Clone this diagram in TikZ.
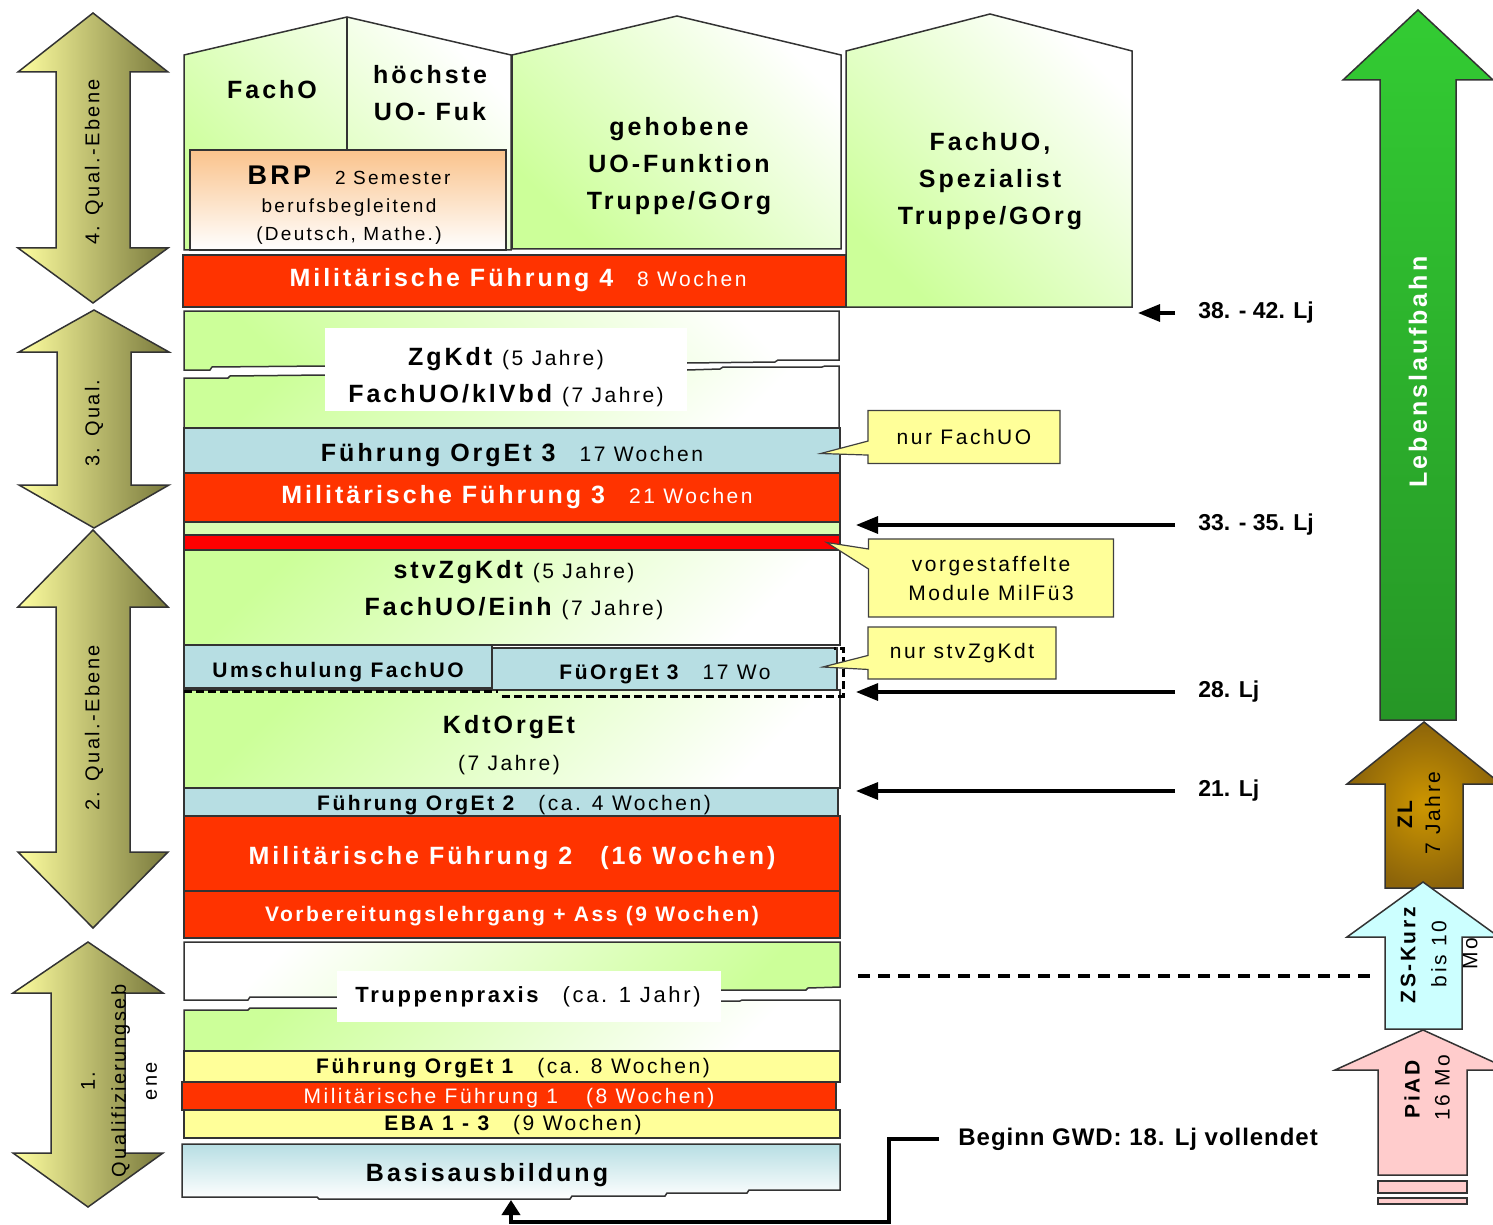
\documentclass[tikz,border=0pt]{standalone}
\usepackage{fontspec}
\setmainfont{Liberation Sans}[LetterSpace=12]
\newfontfamily\ljfont{Liberation Sans}
\newfontfamily\gwdfont{Liberation Sans}[LetterSpace=4]
\usetikzlibrary{fit,arrows.meta,shapes.callouts}

\definecolor{palegreen}{RGB}{204,255,153}
\definecolor{milred}{RGB}{255,51,0}
\definecolor{purered}{RGB}{255,0,0}
\definecolor{orgblue}{RGB}{183,222,227}
\definecolor{paleyel}{RGB}{255,255,153}
\definecolor{brporange}{RGB}{250,195,140}
\definecolor{khakilt}{RGB}{255,255,160}
\definecolor{khakidk}{RGB}{120,120,60}
\definecolor{lbgreen}{RGB}{51,204,51}
\definecolor{lbgreendk}{RGB}{38,150,38}
\definecolor{zlgold}{RGB}{205,150,0}
\definecolor{zlbrown}{RGB}{140,100,10}
\definecolor{zscyan}{RGB}{204,255,255}
\definecolor{piadpink}{RGB}{255,204,204}

\newcommand\dur[1]{{\fontsize{10.5}{12}\selectfont\mdseries #1}}
\newcommand\gap{\hspace{12pt}}
\newcommand\qualarrow[5]{%
  \path[qualshape] (#1,#2) -- (#1+75,#3) -- (#1+37,#3) -- (#1+37,#4) -- (#1+75,#4)
    -- (#1,#5) -- (#1-75,#4) -- (#1-37,#4) -- (#1-37,#3) -- (#1-75,#3) -- cycle;}

\begin{document}
\begin{tikzpicture}[x=0.5pt,y=-0.5pt,
  blk/.style={draw=black!80, line width=0.75pt, inner sep=0pt},
  redbar/.style={blk, fill=milred, text=white},
  bluebar/.style={blk, fill=orgblue},
  yelbar/.style={blk, fill=paleyel},
  greenbox/.style={blk, left color=palegreen, right color=white, shading angle=#1},
  greenbox/.default=135,
  bigtxt/.style={font=\fontsize{12.5}{18.5}\selectfont\bfseries, align=center},
  midtxt/.style={font=\fontsize{10.5}{14}\selectfont\bfseries, align=center},
  note/.style={rectangle callout, draw=black!75, line width=0.6pt, fill=paleyel,
    font=\fontsize{10.5}{14.5}\selectfont, align=center, inner sep=0pt, callout pointer width=7pt},
  qualshape/.style={draw=black!80, line width=0.75pt, left color=khakilt, right color=khakidk},
  qualtxt/.style={rotate=90, font=\fontsize{10}{15.5}\selectfont, align=center},
  ljlabel/.style={anchor=west, inner sep=0pt, font=\ljfont\bfseries\fontsize{11.5}{13}\selectfont},
  agearrow/.style={line width=1.6pt, -{Triangle[length=11pt,width=8.5pt]}, shorten <=11.5pt},
  uparrow/.style={draw=black!80, line width=0.75pt},
  arrtxt/.style={rotate=90, font=\fontsize{10.5}{14}\selectfont, align=center}]

\fill[white] (0,0) rectangle (1493,1225);
\useasboundingbox (0,0) rectangle (1493,1225);

\qualarrow{93}{13}{72}{248}{303}
\qualarrow{94}{310}{352}{485}{528}
\qualarrow{93}{530}{607}{852}{928}
\qualarrow{88}{942}{993}{1153}{1207}
\node[qualtxt] (q4) at (94,162) {4. Qual.-Ebene};
\node[qualtxt] (q3) at (94,423) {3. Qual.};
\node[qualtxt] (q2) at (94,728) {2. Qual.-Ebene};
\node[qualtxt] (q1) at (119,1081) {1.\\Qualifizierungseb\\ene};

\path[greenbox] (184,250) -- (184,55) -- (347,17) -- (511,55) -- (511,250) -- cycle;
\draw[blk] (347,17) -- (347,150);
\node[bigtxt] (facho) at (272,90) {FachO};
\node[bigtxt] (hoechste) at (430,93) {höchste\\UO- Fuk};
\node[blk, top color=brporange, bottom color=white, fit={(190,150) (506,250)}] (brp) {};
\node[align=center, font=\fontsize{9.5}{14}\selectfont] (brptxt) at (349,205)
  {{\fontsize{13.5}{14}\selectfont\bfseries BRP}\hspace{12pt}2 Semester\\berufsbegleitend\\(Deutsch, Mathe.)};
\path[greenbox] (512,249) -- (512,55) -- (677,16) -- (841,55) -- (841,249) -- cycle;
\node[bigtxt] (gehoben) at (679,166) {gehobene\\UO-Funktion\\Truppe/GOrg};
\path[greenbox] (846,307) -- (846,51) -- (990,14) -- (1132,51) -- (1132,307) -- cycle;
\node[bigtxt] (spezial) at (990,181) {FachUO,\\Spezialist\\Truppe/GOrg};

\node[redbar, fit={(183,255) (846,307)}] (mf4) {};
\node[bigtxt, text=white] (mf4txt) at (518,280) {Militärische Führung 4\gap\dur{8 Wochen}};

\path[greenbox=135] (184,311) -- (839,311) -- (839,360) -- (778,360) -- (775,362) -- (687,363)
  -- (325,366) -- (212,367) -- (210,370) -- (184,370) -- cycle;
\path[greenbox=45] (184,428) -- (184,378) -- (228,378) -- (230,376) -- (325,375) -- (687,370)
  -- (720,369) -- (723,367) -- (822,367) -- (825,366) -- (839,366) -- (839,428) -- cycle;
\fill[white] (325,328) rectangle (687,411);
\node[bigtxt] (zgkdt) at (506,377) {ZgKdt \dur{(5 Jahre)}\\FachUO/klVbd \dur{(7 Jahre)}};

\node[bluebar, fit={(184,428) (840,473)}] (fo3) {};
\node[bigtxt] (fo3txt) at (512,455) {Führung OrgEt 3\gap\dur{17 Wochen}};
\node[redbar, fit={(184,473) (840,522)}] (mf3) {};
\node[bigtxt, text=white] (mf3txt) at (517,497) {Militärische Führung 3\gap\dur{21 Wochen}};
\node[blk, fill=palegreen!75, fit={(184,522) (840,535)}] (strip) {};
\node[blk, fill=purered, fit={(184,535) (840,550)}] (vorstaffel) {};

\node[greenbox=45, fit={(184,550) (840,645)}] (stv) {};
\node[bigtxt] (stvtxt) at (514,590) {stvZgKdt \dur{(5 Jahre)}\\FachUO/Einh \dur{(7 Jahre)}};
\node[greenbox=45, fit={(184,690) (840,788)}] (kdt) {};
\node[bigtxt] (kdttxt) at (509,745) {KdtOrgEt\\\dur{(7 Jahre)}};
\node[bluebar, fit={(184,645) (492,688)}] (umsch) {};
\node[midtxt] (umschtxt) at (338,672) {Umschulung FachUO};
\node[bluebar, fit={(492,648) (837,690)}] (fueorg) {};
\node[midtxt] (fueorgtxt) at (665,674) {FüOrgEt 3\gap{\mdseries 17 Wo}};
\draw[line width=1.5pt, dash pattern=on 4pt off 2pt] (184,691) -- (498,691) (502,696) -- (843,696) -- (843,648) -- (834,648);

\node[bluebar, fit={(184,788) (838,816)}] (fo2) {};
\node[midtxt] (fo2txt) at (514,805) {Führung OrgEt 2\gap{\mdseries (ca. 4 Wochen)}};
\node[redbar, fit={(184,816) (840,891)}] (mf2) {};
\node[bigtxt, text=white] (mf2txt) at (512,858) {Militärische Führung 2\hspace{14pt}(16 Wochen)};
\node[redbar, fit={(184,891) (840,938)}] (vbl) {};
\node[midtxt, text=white] (vbltxt) at (512,916) {Vorbereitungslehrgang + Ass (9 Wochen)};

\path[greenbox=-135] (184,942) -- (840,942) -- (840,987) -- (808,988) -- (806,990) -- (721,990)
  -- (337,997) -- (250,997) -- (248,1000) -- (184,1000) -- cycle;
\path[greenbox=45] (184,1051) -- (184,1010) -- (248,1010) -- (250,1008) -- (337,1008) -- (721,1001)
  -- (740,1001) -- (742,1000) -- (840,1000) -- (840,1051) -- cycle;
\fill[white] (337,971) rectangle (721,1022);
\node[midtxt, font=\fontsize{11}{14}\selectfont\bfseries] (truppe) at (528,997) {Truppenpraxis\gap{\mdseries (ca. 1 Jahr)}};

\node[yelbar, fit={(184,1051) (840,1082)}] (fo1) {};
\node[midtxt] (fo1txt) at (513,1068) {Führung OrgEt 1\gap{\mdseries (ca. 8 Wochen)}};
\node[redbar, fit={(182,1082) (836,1110)}] (mf1) {};
\node[midtxt, text=white, font=\fontsize{10.5}{14}\selectfont] (mf1txt) at (509,1098) {Militärische Führung 1\hspace{14pt}(8 Wochen)};
\node[yelbar, fit={(184,1110) (840,1138)}] (eba) {};
\node[midtxt] (ebatxt) at (513,1125) {EBA 1 - 3\gap{\mdseries (9 Wochen)}};
\path[blk, top color=orgblue, bottom color=white] (182,1144) -- (840,1144) -- (840,1190) -- (749,1190)
  -- (747,1193) -- (667,1193) -- (665,1196) -- (572,1196) -- (570,1199) -- (319,1199) -- (317,1197)
  -- (182,1197) -- cycle;
\node[bigtxt] (basis) at (487,1175) {Basisausbildung};
\coordinate (basisfoot) at (511,1200);

\node[anchor=west, inner sep=0pt, font=\gwdfont\bfseries\fontsize{12}{14}\selectfont] (gwd) at (958,1139) {Beginn GWD: 18. Lj vollendet};
\coordinate (gwdbend) at (889,1222);
\draw[line width=2pt, -{Triangle[length=7.5pt,width=9pt]}, shorten <=9.5pt] (gwd.west) -| (gwdbend) -| (basisfoot);

\coordinate (coledge) at (856,0);
\coordinate (roofedge) at (1138,0);
\node[ljlabel] (lj38) at (1198,313) {38. - 42. Lj};
\node[ljlabel] (lj33) at (1198,525) {33. - 35. Lj};
\node[ljlabel] (lj28) at (1198,692) {28. Lj};
\node[ljlabel] (lj21) at (1198,791) {21. Lj};
\draw[agearrow] (lj38.west) -- (lj38.west -| roofedge);
\draw[agearrow] (lj33.west) -- (lj33.west -| coledge);
\draw[agearrow] (lj28.west) -- (lj28.west -| coledge);
\draw[agearrow] (lj21.west) -- (lj21.west -| coledge);

\node[note, minimum width=96pt, minimum height=26.5pt, callout absolute pointer={([xshift=-10pt,yshift=-1.5pt]fo3.east)}] (nurfach) at (964,437) {nur FachUO};
\node[note, minimum width=122.5pt, minimum height=39pt, callout pointer width=10pt, callout absolute pointer={([xshift=-7pt]vorstaffel.east)}] (milfue3) at (991,578) {vorgestaffelte\\Module MilFü3};
\node[note, minimum width=94pt, minimum height=26pt, callout absolute pointer={([xshift=-7.5pt,yshift=1pt]fueorg.east)}] (nurstv) at (962,653) {nur stvZgKdt};

\path[uparrow, top color=lbgreen, bottom color=lbgreendk] (1418,10) -- (1493,80) -- (1456,80) -- (1456,720) -- (1380,720) -- (1380,80) -- (1343,80) -- cycle;
\node[rotate=90, text=white, font=\fontsize{12.5}{15}\selectfont\bfseries] (laufbahn) at (1418,372) {Lebenslaufbahn};
\path[uparrow, inner color=zlgold, outer color=zlbrown] (1424,722) -- (1501,784) -- (1463,784) -- (1463,888) -- (1385,888) -- (1385,784) -- (1347,784) -- cycle;
\node[arrtxt] (zl) at (1419,813) {\textbf{ZL}\\7 Jahre};
\path[uparrow, fill=zscyan] (1423,882) -- (1499,937) -- (1462,937) -- (1462,1029) -- (1385,1029) -- (1385,937) -- (1347,937) -- cycle;
\node[arrtxt, font=\fontsize{10.5}{15.5}\selectfont] (zs) at (1439,954) {\textbf{ZS-Kurz}\\bis 10\\Mo};
\path[uparrow, fill=piadpink] (1423,1030) -- (1511,1070) -- (1467,1070) -- (1467,1175) -- (1378,1175) -- (1378,1070) -- (1335,1070) -- cycle;
\path[uparrow, fill=piadpink] (1378,1181) rectangle (1467,1193);
\path[uparrow, fill=piadpink] (1378,1198) rectangle (1467,1204);
\node[arrtxt, font=\fontsize{10.5}{15}\selectfont] (piad) at (1427,1088) {\textbf{PiAD}\\16 Mo};

\coordinate (tpedge) at (858,976);
\coordinate (zsfoot) at (1373,976);
\draw[line width=2pt, dash pattern=on 6pt off 4pt] (tpedge) -- (zsfoot);
\end{tikzpicture}
\end{document}
